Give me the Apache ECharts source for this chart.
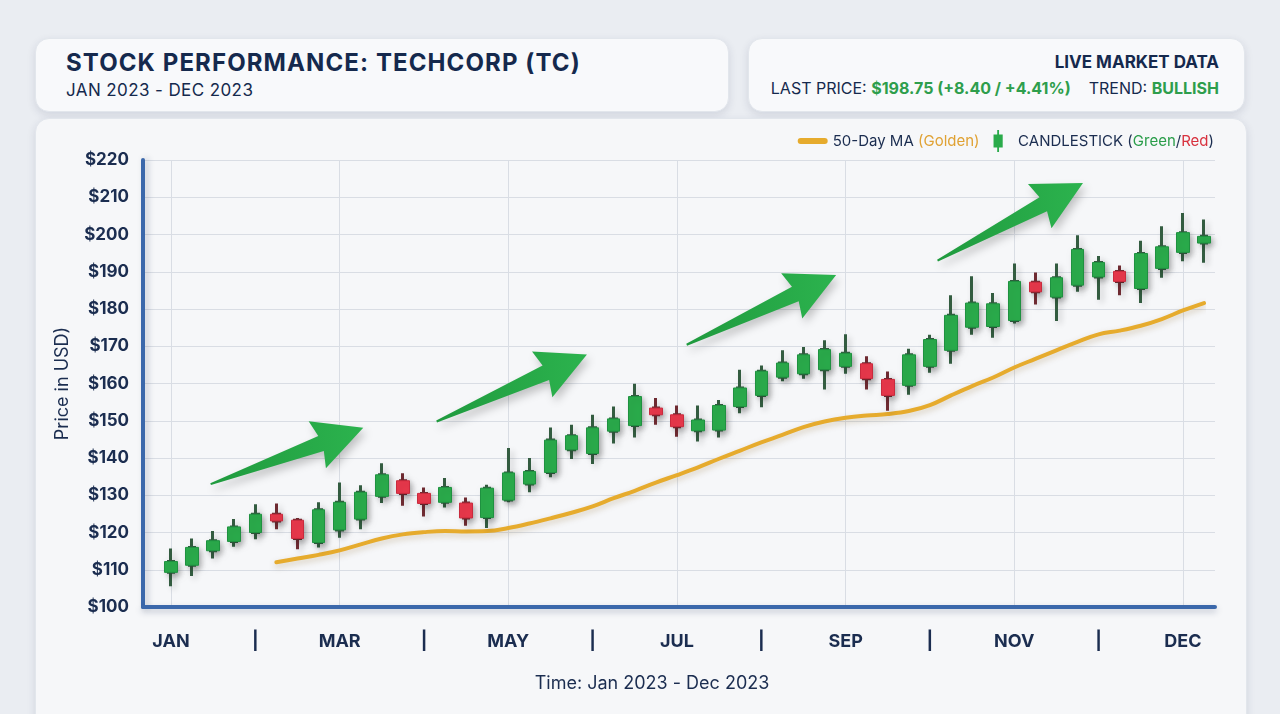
<!DOCTYPE html>
<html>
<head>
<meta charset="utf-8">
<script src="https://cdn.jsdelivr.net/npm/echarts@6/dist/echarts.min.js"></script>
<style>
  html, body { margin: 0; padding: 0; }
  body {
    width: 1280px; height: 714px; overflow: hidden; position: relative;
    background: #eaedf2; font-family: Inter, "Noto Sans", sans-serif; color: #15294d;
  }
  .card {
    position: absolute; background: #f8f9fb; border-radius: 14px;
    border: 1px solid #e2e6ec; box-shadow: 0 3px 9px rgba(30, 45, 80, 0.12);
  }
  #cardL { left: 35px; top: 38px; width: 692px; height: 72px; }
  #cardR { left: 748px; top: 38px; width: 495px; height: 72px; }
  #panel { left: 35px; top: 118px; width: 1210px; height: 640px; background: #f6f7f9; }
  .txt { position: absolute; white-space: nowrap; }
  #title { left: 66px; top: 49px; font-size: 24px; line-height: 28px; font-weight: 700; letter-spacing: 1.1px; }
  #sub { left: 66px; top: 80px; font-size: 17px; line-height: 20px; letter-spacing: 0.4px; }
  #live { right: 61px; top: 52px; font-size: 17px; line-height: 20px; font-weight: 700; }
  #price { right: 61px; top: 78px; font-size: 16px; line-height: 20px; }
  .up { color: #2e9e4c; font-weight: 700; }
  #chart { position: absolute; left: 0; top: 0; width: 1280px; height: 714px; }
</style>
</head>
<body>
<div class="card" id="cardL"></div>
<div class="card" id="cardR"></div>
<div class="card" id="panel"></div>
<div class="txt" id="title">STOCK PERFORMANCE: TECHCORP (TC)</div>
<div class="txt" id="sub">JAN 2023 - DEC 2023</div>
<div class="txt" id="live">LIVE MARKET DATA</div>
<div class="txt" id="price">LAST PRICE: <span class="up">$198.75 (+8.40 / +4.41%)</span><span style="margin-left:18px">TREND: </span><span class="up">BULLISH</span></div>
<div id="chart"></div>
<script>
// weekly buckets, Jan - Dec 2023
const weeks = [
  'W01','W02','W03','W04','W05','W06','W07','W08','W09','W10',
  'W11','W12','W13','W14','W15','W16','W17','W18','W19','W20',
  'W21','W22','W23','W24','W25','W26','W27','W28','W29','W30',
  'W31','W32','W33','W34','W35','W36','W37','W38','W39','W40',
  'W41','W42','W43','W44','W45','W46','W47','W48','W49','W50'
];
// labels shown every 4th week
const tickLabels = ['JAN', '|', 'MAR', '|', 'MAY', '|', 'JUL', '|', 'SEP', '|', 'NOV', '|', 'DEC'];
const yTicks = [100, 220, 10]; // min, max, step

// [open, close, low, high]
const candles = [
  [109.3, 112.2, 105.6, 115.7], [111.2, 116.0, 108.3, 118.4], [115.1, 117.8, 113.0, 120.4],
  [117.6, 121.5, 116.2, 123.6], [120.0, 124.9, 118.2, 127.6], [124.9, 123.1, 120.9, 127.8],
  [123.3, 118.4, 115.5, 123.9], [117.3, 126.1, 116.0, 128.1], [120.7, 128.1, 118.6, 133.4],
  [123.6, 130.8, 120.9, 132.7], [129.7, 135.5, 127.9, 138.6], [133.9, 130.5, 127.2, 135.9],
  [130.5, 127.8, 124.3, 132.1], [128.1, 132.1, 126.7, 134.6], [127.9, 123.9, 121.8, 129.4],
  [124.0, 131.9, 121.2, 132.8], [128.7, 136.0, 128.1, 142.7], [133.0, 136.4, 130.8, 140.0],
  [136.1, 144.8, 134.8, 148.2], [142.2, 146.0, 139.7, 148.9], [141.2, 148.1, 138.4, 151.6],
  [147.2, 150.5, 143.9, 153.8], [148.7, 156.5, 145.5, 159.9], [153.4, 151.6, 148.9, 156.1],
  [151.6, 148.4, 145.7, 154.1], [147.3, 150.2, 144.4, 154.1], [147.5, 154.1, 145.5, 155.6],
  [153.8, 158.8, 152.0, 163.7], [156.8, 163.3, 153.6, 164.8], [161.7, 165.5, 160.6, 168.9],
  [162.6, 167.7, 161.3, 169.8], [163.7, 169.1, 158.4, 171.6], [164.6, 168.1, 162.6, 173.2],
  [165.3, 161.3, 158.4, 167.3], [161.1, 156.8, 152.7, 163.2], [159.5, 167.7, 157.0, 169.3],
  [164.6, 171.8, 162.9, 173.1], [168.9, 178.3, 165.3, 183.7], [175.1, 181.6, 173.1, 188.8],
  [175.3, 181.4, 172.3, 184.3], [176.9, 187.4, 176.1, 192.2], [187.2, 184.6, 181.2, 189.8],
  [183.2, 188.4, 176.8, 192.2], [186.4, 196.0, 184.6, 199.8], [188.6, 192.5, 182.5, 194.2],
  [190.1, 187.4, 183.7, 191.7], [185.5, 194.9, 181.6, 198.3], [190.9, 196.7, 188.4, 202.2],
  [195.2, 200.5, 192.8, 205.8], [197.7, 199.5, 192.4, 204.0]
];

const ma50 = [
  null, null, null, null, null, 112.0, 113.0, 114.0, 115.2, 116.8,
  118.4, 119.5, 120.1, 120.4, 120.3, 120.4, 121.2, 122.4, 123.8, 125.3,
  127.0, 129.2, 131.2, 133.4, 135.4, 137.5, 139.8, 142.0, 144.2, 146.2,
  148.3, 149.8, 150.8, 151.4, 151.8, 152.6, 154.2, 156.8, 159.3, 161.6,
  164.3, 166.6, 168.9, 171.2, 173.2, 174.2, 175.5, 177.3, 179.6, 181.6
];

// trend arrows: [fromWeek, fromPrice, toWeek, toPrice]
const arrows = [
  [1.88, 133.0, 9.12, 148.1],
  [12.60, 149.8, 19.73, 167.8],
  [24.46, 170.4, 31.55, 189.1],
  [36.36, 193.0, 43.26, 213.8]
];

const navy = '#1b2d50';
const upColor = '#2aab4b';
const downColor = '#e8384b';
const gold = '#e6ab2d';
const axisBlue = '#3b68ab';

const chart = echarts.init(document.getElementById('chart'), null, { renderer: 'canvas' });

function renderArrow(params, api) {
  const a = api.coord([api.value(0), api.value(1)]);
  const b = api.coord([api.value(2), api.value(3)]);
  const dx = b[0] - a[0], dy = b[1] - a[1];
  const len = Math.hypot(dx, dy);
  const ux = dx / len, uy = dy / len, nx = -uy, ny = ux;
  const p = (s, w) => [a[0] + ux * s + nx * w, a[1] + uy * s + ny * w];
  const hb = len - 45;
  return {
    type: 'polygon',
    shape: { points: [p(0, -1), p(hb, -8), p(hb - 4, -25), p(len, 0), p(hb - 4, 25), p(hb, 8), p(0, 1)] },
    style: {
      fill: new echarts.graphic.LinearGradient(0, 0, 1, 0, [
        { offset: 0, color: '#1f9a3e' }, { offset: 1, color: '#2cb34e' }
      ]),
      shadowBlur: 8, shadowOffsetX: 3, shadowOffsetY: 5, shadowColor: 'rgba(0,0,0,0.22)'
    }
  };
}

const option = {
  backgroundColor: 'transparent',
  animation: false,
  textStyle: { fontFamily: 'Inter, "Noto Sans", sans-serif' },
  legend: {
    right: 61,
    top: 125,
    itemWidth: 30,
    itemHeight: 22,
    itemGap: 14,
    selectedMode: false,
    data: [
      { name: '50-Day MA', icon: 'path://M3,0h24a3,3 0 0 1 0,6h-24a3,3 0 0 1 0,-6z', itemStyle: { color: gold } },
      { name: 'CANDLESTICK', icon: 'path://M4,0h2v5h4v14h-4v5h-2v-5h-4v-14h4z', itemStyle: { color: upColor, borderWidth: 0 } }
    ],
    formatter: (name) => name === '50-Day MA'
      ? '50-Day MA {g|(Golden)}'
      : 'CANDLESTICK ({gr|Green}/{r|Red})',
    textStyle: {
      fontSize: 15, color: navy,
      rich: {
        g: { fontSize: 15, color: '#e0a234' },
        gr: { fontSize: 15, color: '#2a9d4a' },
        r: { fontSize: 15, color: '#d8323f' }
      }
    }
  },
  grid: [
    { left: 143, right: 65, top: 160, bottom: 107 },
    { left: 171, right: 76, top: 160, bottom: 107 }
  ],
  xAxis: [
    {
      gridIndex: 0, type: 'value', min: 0, max: 1,
      axisLine: { show: true, lineStyle: { color: axisBlue, width: 4, cap: 'round', shadowBlur: 6, shadowOffsetY: 3, shadowColor: 'rgba(30,50,90,0.25)' } },
      axisTick: { show: false }, axisLabel: { show: false }, splitLine: { show: false },
      name: 'Time: Jan 2023 - Dec 2023', nameLocation: 'middle', nameGap: 68,
      nameTextStyle: { fontSize: 18, color: navy, padding: [0, 54, 0, 0] }
    },
    {
      gridIndex: 1, type: 'category', data: weeks, boundaryGap: false,
      axisLine: { show: false }, axisTick: { show: false },
      axisLabel: {
        interval: 3, margin: 26, fontSize: 18, fontWeight: 700, color: navy,
        formatter: (v, i) => tickLabels[i / 4]
      },
      splitLine: { show: true, interval: 7, lineStyle: { color: '#d9dde4', width: 1 } }
    },
    {
      gridIndex: 1, type: 'value', min: 0, max: weeks.length - 1, show: false
    }
  ],
  yAxis: [
    {
      gridIndex: 0, type: 'value', min: yTicks[0], max: yTicks[1], interval: yTicks[2],
      axisLine: { show: true, lineStyle: { color: axisBlue, width: 4, cap: 'round', shadowBlur: 6, shadowOffsetX: 3, shadowColor: 'rgba(30,50,90,0.25)' } },
      axisTick: { show: false },
      axisLabel: { margin: 14, fontSize: 17, fontWeight: 700, color: navy, formatter: '${value}' },
      splitLine: { lineStyle: { color: '#d9dde4', width: 1 } },
      name: 'Price in USD)', nameLocation: 'middle', nameGap: 71, nameRotate: 90,
      nameTextStyle: { fontSize: 18, color: navy }
    },
    {
      gridIndex: 1, type: 'value', min: yTicks[0], max: yTicks[1], show: false
    }
  ],
  series: [
    {
      name: '50-Day MA',
      type: 'line',
      xAxisIndex: 1, yAxisIndex: 1,
      data: ma50,
      smooth: 0.4,
      showSymbol: false,
      z: 2,
      lineStyle: { color: gold, width: 4, cap: 'round', shadowBlur: 6, shadowOffsetY: 3, shadowColor: 'rgba(120,80,0,0.25)' },
      itemStyle: { color: gold }
    },
    {
      name: 'arrows',
      type: 'custom',
      xAxisIndex: 2, yAxisIndex: 1,
      data: arrows,
      encode: { x: [0, 2], y: [1, 3] },
      renderItem: renderArrow,
      clip: false,
      z: 3,
      silent: true
    },
    // wicks (dark), narrow so the bodies on top hide their frame
    {
      name: 'CANDLESTICK',
      type: 'candlestick',
      xAxisIndex: 1, yAxisIndex: 1,
      data: candles,
      barWidth: 6,
      clip: false,
      z: 4,
      itemStyle: {
        color: upColor,
        color0: downColor,
        borderColor: '#335c40',
        borderColor0: '#6e2a31',
        borderWidth: 3,
        shadowBlur: 6, shadowOffsetX: 3, shadowOffsetY: 3, shadowColor: 'rgba(0,0,0,0.2)'
      }
    },
    // bodies on top with a softer edge
    {
      name: 'bodies',
      type: 'candlestick',
      xAxisIndex: 1, yAxisIndex: 1,
      data: candles.map(d => [d[0], d[1], Math.min(d[0], d[1]), Math.max(d[0], d[1])]),
      barWidth: 13,
      clip: false,
      z: 5,
      silent: true,
      itemStyle: {
        color: upColor,
        color0: downColor,
        borderColor: '#1f9140',
        borderColor0: '#c92a3d',
        borderWidth: 1,
        shadowBlur: 6, shadowOffsetX: 3, shadowOffsetY: 3, shadowColor: 'rgba(0,0,0,0.18)'
      }
    }
  ]
};

chart.setOption(option);
</script>
</body>
</html>
